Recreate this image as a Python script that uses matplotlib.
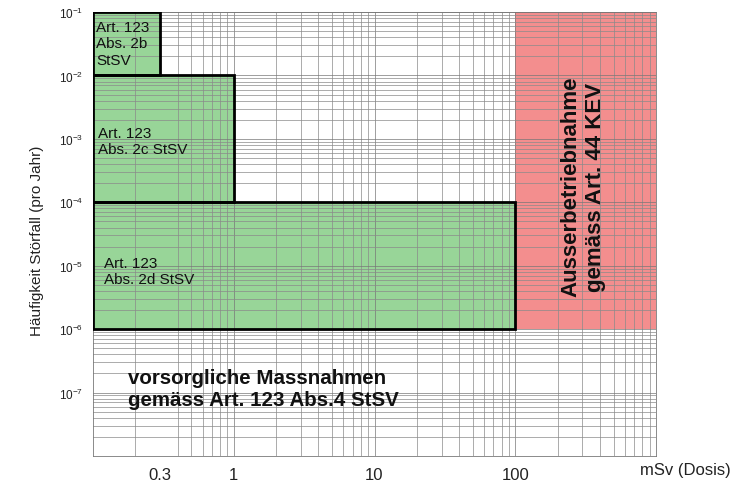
import matplotlib.pyplot as plt
from matplotlib.patches import Rectangle
from matplotlib.ticker import LogLocator, NullFormatter

plt.rcParams["font.family"] = ["Liberation Sans", "DejaVu Sans"]
plt.rcParams["mathtext.fontset"] = "custom"
plt.rcParams["mathtext.rm"] = "Liberation Sans"
plt.rcParams["mathtext.it"] = "Liberation Sans"

# Bereiche: (Dosis von, Dosis bis, Häufigkeit von, Häufigkeit bis)
box_labels = ["Art. 123\nAbs. 2b\nStSV", "Art. 123\nAbs. 2c StSV", "Art. 123\nAbs. 2d StSV"]
dose_min = [0.1, 0.1, 0.1]
dose_max = [0.3, 1.0, 100.0]
freq_min = [1e-2, 1e-4, 1e-6]
freq_max = [1e-1, 1e-2, 1e-4]
# Textanker je Kasten (links, Mitte)
text_x = [0.105, 0.108, 0.12]
text_y = [3.2e-2, 9.2e-4, 8.3e-6]

kev_dose = [100.0, 1000.0]
kev_freq = [1e-6, 1e-1]

x_ticks = [0.3, 1, 10, 100]
x_ticklabels = ["0.3", "1", "10", "100"]
y_ticks = [1e-1, 1e-2, 1e-3, 1e-4, 1e-5, 1e-6, 1e-7]
y_ticklabels = [r"$10^{-%d}$" % k for k in range(1, 8)]

fig = plt.figure(figsize=(7.34, 4.85), dpi=100)
ax = fig.add_axes([93 / 734, 1 - 457 / 485, (656 - 93) / 734, (457 - 13) / 485])
ax.set_xscale("log")
ax.set_yscale("log")
ax.set_xlim(0.1, 1000)
ax.set_ylim(1e-8, 1e-1)

green = "#98d598"
for x0, x1, y0, y1, lab, tx, ty in zip(dose_min, dose_max, freq_min, freq_max,
                                        box_labels, text_x, text_y):
    ax.add_patch(Rectangle((x0, y0), x1 - x0, y1 - y0, facecolor=green,
                           edgecolor="none", zorder=0.5))
    ax.add_patch(Rectangle((x0, y0), x1 - x0, y1 - y0, facecolor="none",
                           edgecolor="black", linewidth=2, zorder=3))
    ax.text(tx, ty, lab, fontsize=11, va="center", ha="left", linespacing=1.2,
            color="#111111", zorder=4)

ax.add_patch(Rectangle((kev_dose[0], kev_freq[0]), kev_dose[1] - kev_dose[0],
                       kev_freq[1] - kev_freq[0], facecolor="#f38e8e", edgecolor="none",
                       zorder=0.5))

ax.text(0.177, 1.18e-7, "vorsorgliche Massnahmen\ngemäss Art. 123 Abs.4 StSV",
        fontsize=14.8, fontweight="bold", va="center", ha="left", linespacing=1.2,
        color="#111111", zorder=4)
ax.text(305, 1.8e-4, "Ausserbetriebnahme\ngemäss Art. 44 KEV", fontsize=16,
        fontweight="bold", rotation=90, va="center", ha="center", linespacing=1.25,
        color="#111111", zorder=4)

ax.xaxis.set_minor_locator(LogLocator(base=10, subs=range(2, 10), numticks=20))
ax.yaxis.set_major_locator(LogLocator(base=10, numticks=20))
ax.yaxis.set_minor_locator(LogLocator(base=10, subs=range(2, 10), numticks=20))
ax.grid(True, which="major", axis="y", color="#777777", linewidth=0.5, zorder=1)
ax.grid(True, which="minor", color="#8a8a8a", linewidth=0.5, zorder=1)

ax.set_xticks(x_ticks)
ax.set_xticklabels(x_ticklabels)
ax.xaxis.set_minor_formatter(NullFormatter())
ax.set_yticks(y_ticks)
ax.set_yticklabels(y_ticklabels)
ax.yaxis.set_minor_formatter(NullFormatter())
ax.tick_params(which="both", length=0, colors="#222222")
ax.tick_params(axis="x", labelsize=12, pad=8)
ax.tick_params(axis="y", labelsize=8.5, pad=7)

# Dekaden-Linien der Dosisachse
for xv in [1, 10, 100]:
    ax.axvline(xv, color="#777777", linewidth=0.5, zorder=1)

for s in ax.spines.values():
    s.set_color("#777777")
    s.set_linewidth(0.6)

fig.text(685 / 734, 1 - 471 / 485, "mSv (Dosis)", fontsize=12, ha="center", va="center",
         color="#222222")
fig.text(37 / 734, 1 - 241 / 485, "Häufigkeit Störfall (pro Jahr)", fontsize=11,
         rotation=90, ha="center", va="center", color="#222222")

fig.savefig("out.png", dpi=100)
